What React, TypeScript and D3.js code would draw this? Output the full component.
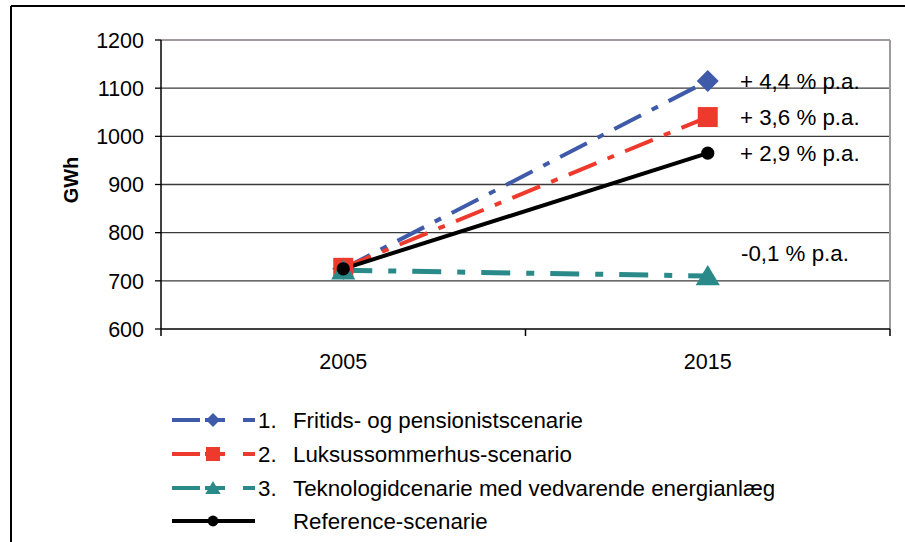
import React from "react";
import * as d3 from "d3";

const years = ["2005", "2015"];
const fritids = [725, 1115];
const luksus = [727, 1040];
const teknologi = [722, 710];
const reference = [725, 965];
const yTicks = [600, 700, 800, 900, 1000, 1100, 1200];
const growthLabels = ["+ 4,4 % p.a.", "+ 3,6 % p.a.", "+ 2,9 % p.a.", "-0,1 % p.a."];
const legendNames = [
  "1.  Fritids- og pensionistscenarie",
  "2.  Luksussommerhus-scenario",
  "3.  Teknologidcenarie med vedvarende energianlæg",
  "Reference-scenarie",
];

const FONT = "'Liberation Sans', Arial, sans-serif";
const FS = 21.5;
const FL = 22.3;

export default function App() {
  const W = 905, H = 542;
  const left = 161, right = 890, top = 40, bottom = 329;
  const x = d3.scaleBand<string>().domain(years).range([left, right]);
  const cx = (i: number) => (x(years[i]) as number) + x.bandwidth() / 2;
  const y = d3.scaleLinear().domain([600, 1200]).range([bottom, top]);

  const series = [
    { vals: fritids, color: "#3f5aa8", dash: "30 12 7 12", marker: "diamond" },
    { vals: luksus, color: "#ee3a2c", dash: "30 12 7 12", marker: "square" },
    { vals: teknologi, color: "#2a8a8a", dash: "29 16 8 16", marker: "triangle" },
    { vals: reference, color: "#000000", dash: "", marker: "circle" },
  ];

  const line = d3.line<number>().x((_, i) => cx(i)).y((d) => y(d));

  const marker = (type: string, px: number, py: number, color: string, s: number, key: string) => {
    if (type === "diamond") {
      return <path key={key} d={`M${px},${py - s}L${px + s},${py}L${px},${py + s}L${px - s},${py}Z`} fill={color} />;
    }
    if (type === "square") {
      return <rect key={key} x={px - s} y={py - s} width={2 * s} height={2 * s} fill={color} />;
    }
    if (type === "triangle") {
      return <path key={key} d={`M${px},${py - s}L${px + s * 1.1},${py + s * 0.85}L${px - s * 1.1},${py + s * 0.85}Z`} fill={color} />;
    }
    return <circle key={key} cx={px} cy={py} r={s * 0.6} fill={color} />;
  };

  const legendY = [420, 454, 488, 521];

  return (
    <svg width={W} height={H} style={{ display: "block", position: "absolute", left: 0, top: 0 }} fontFamily={FONT}>
      <rect x={0} y={0} width={W} height={H} fill="#fff" />
      <line x1={11} y1={6} x2={W} y2={6} stroke="#000" strokeWidth={2} />
      <line x1={11} y1={6} x2={11} y2={H} stroke="#000" strokeWidth={2} />

      {yTicks.slice(1, -1).map((t) => (
        <line key={t} x1={left} x2={right} y1={y(t)} y2={y(t)} stroke="#3a3a3a" strokeWidth={1.3} />
      ))}
      <line x1={left} x2={right} y1={top} y2={top} stroke="#a09aa0" strokeWidth={2} />
      <line x1={right} x2={right} y1={top} y2={bottom} stroke="#a09aa0" strokeWidth={2} />
      <line x1={left} x2={left} y1={top} y2={bottom} stroke="#000" strokeWidth={1.5} />
      <line x1={left} x2={right} y1={bottom} y2={bottom} stroke="#000" strokeWidth={1.5} />
      {yTicks.map((t) => (
        <g key={t}>
          <line x1={left - 6} x2={left} y1={y(t)} y2={y(t)} stroke="#000" strokeWidth={1.3} />
          <text x={144} y={y(t)} dy="0.36em" textAnchor="end" fontSize={FS} fill="#000">{t}</text>
        </g>
      ))}
      {[0, 1, 2].map((i) => {
        const xx = left + i * x.bandwidth();
        return <line key={i} x1={xx} x2={xx} y1={bottom} y2={bottom + 7} stroke="#000" strokeWidth={1.5} />;
      })}
      {years.map((yr, i) => (
        <text key={yr} x={cx(i)} y={369} textAnchor="middle" fontSize={FS} fill="#000">{yr}</text>
      ))}
      <text transform={`translate(78,180) rotate(-90)`} textAnchor="middle" fontSize={20} fontWeight="bold" fill="#000">GWh</text>

      {series.map((s, si) => (
        <path key={si} d={line(s.vals) as string} fill="none" stroke={s.color} strokeWidth={s.marker === "triangle" ? 5 : 4} strokeDasharray={s.dash || undefined} />
      ))}
      {series.map((s, si) =>
        s.vals.map((v, i) => marker(s.marker, cx(i), y(v), s.color, s.marker === "circle" ? 11 : s.marker === "square" ? 10 : 11, `${si}-${i}`))
      )}

      <text x={740} y={y(fritids[1])} dy="0.36em" fontSize={FL}>{growthLabels[0]}</text>
      <text x={740} y={y(luksus[1])} dy="0.36em" fontSize={FL}>{growthLabels[1]}</text>
      <text x={740} y={y(reference[1])} dy="0.36em" fontSize={FL}>{growthLabels[2]}</text>
      <text x={741} y={y(teknologi[1]) - 23} dy="0.36em" fontSize={FL}>{growthLabels[3]}</text>

      {series.map((s, r) => {
        const ly = legendY[r];
        const isRef = s.marker === "circle";
        const name = legendNames[r];
        return (
          <g key={r}>
            {isRef ? (
              <line x1={172} x2={255} y1={ly} y2={ly} stroke="#000" strokeWidth={4} />
            ) : (
              <g>
                <line x1={172} x2={200} y1={ly} y2={ly} stroke={s.color} strokeWidth={4} />
                <line x1={205} x2={225} y1={ly} y2={ly} stroke={s.color} strokeWidth={4} />
                <line x1={243} x2={255} y1={ly} y2={ly} stroke={s.color} strokeWidth={4} />
              </g>
            )}
            {marker(s.marker, 213, ly, s.color, isRef ? 9 : 7, `lm${r}`)}
            {isRef ? (
              <text x={293} y={ly} dy="0.36em" fontSize={FL}>{name}</text>
            ) : (
              <g>
                <text x={258} y={ly} dy="0.36em" fontSize={FL}>{name.slice(0, 2)}</text>
                <text x={293} y={ly} dy="0.36em" fontSize={FL}>{name.slice(4)}</text>
              </g>
            )}
          </g>
        );
      })}
    </svg>
  );
}
